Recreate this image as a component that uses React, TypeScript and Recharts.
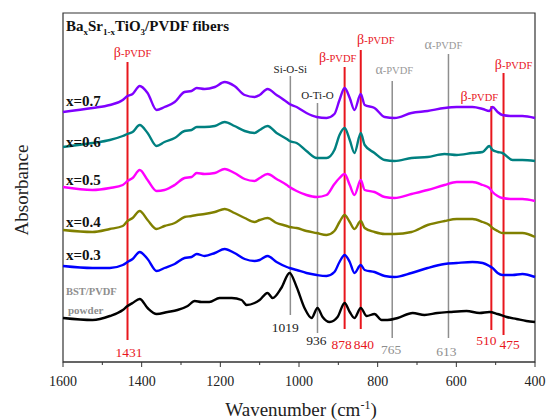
import React from 'react';
import { LineChart, Line, XAxis, YAxis, ReferenceLine, ReferenceArea } from 'recharts';

// ---------- data (absorbance, arbitrary units, curves offset as in the figure) ----------
const wavenumbers = [1600, 1525, 1481, 1448, 1436, 1423, 1405, 1385, 1362, 1342, 1316, 1291, 1273, 1260, 1240, 1214, 1189, 1164, 1138, 1113, 1100, 1080, 1057, 1031, 1024, 1006, 981, 955, 930, 910, 897, 884, 871, 859, 843, 833, 808, 782, 757, 714, 673, 630, 599, 559, 533, 516, 508, 495, 483, 457, 432, 400];
const absX07 = [2.50, 2.54, 2.57, 2.62, 2.66, 2.68, 2.76, 2.69, 2.52, 2.55, 2.60, 2.70, 2.71, 2.74, 2.73, 2.75, 2.80, 2.76, 2.67, 2.65, 2.67, 2.73, 2.67, 2.60, 2.58, 2.55, 2.49, 2.45, 2.44, 2.48, 2.62, 2.74, 2.64, 2.52, 2.68, 2.57, 2.54, 2.45, 2.44, 2.49, 2.51, 2.54, 2.55, 2.55, 2.53, 2.51, 2.55, 2.50, 2.47, 2.46, 2.46, 2.44];
const absX06 = [2.15, 2.19, 2.22, 2.26, 2.28, 2.30, 2.37, 2.29, 2.16, 2.20, 2.24, 2.31, 2.32, 2.35, 2.35, 2.36, 2.40, 2.36, 2.31, 2.29, 2.32, 2.36, 2.29, 2.23, 2.21, 2.19, 2.11, 2.04, 2.04, 2.12, 2.27, 2.34, 2.22, 2.09, 2.29, 2.17, 2.09, 2.02, 2.01, 2.04, 2.05, 2.08, 2.07, 2.09, 2.10, 2.16, 2.12, 2.10, 2.09, 2.02, 2.02, 2.01];
const absX05 = [1.75, 1.72, 1.74, 1.77, 1.81, 1.84, 1.92, 1.82, 1.71, 1.72, 1.77, 1.84, 1.85, 1.89, 1.88, 1.89, 1.93, 1.89, 1.83, 1.81, 1.84, 1.88, 1.83, 1.77, 1.75, 1.71, 1.67, 1.65, 1.67, 1.78, 1.84, 1.88, 1.77, 1.67, 1.82, 1.72, 1.70, 1.65, 1.64, 1.68, 1.72, 1.77, 1.80, 1.80, 1.77, 1.74, 1.70, 1.66, 1.64, 1.63, 1.63, 1.61];
const absX04 = [1.32, 1.30, 1.33, 1.36, 1.41, 1.44, 1.51, 1.42, 1.33, 1.36, 1.39, 1.45, 1.46, 1.47, 1.48, 1.50, 1.53, 1.49, 1.44, 1.40, 1.42, 1.44, 1.39, 1.36, 1.35, 1.34, 1.31, 1.29, 1.27, 1.31, 1.40, 1.47, 1.40, 1.33, 1.41, 1.34, 1.30, 1.28, 1.28, 1.30, 1.37, 1.41, 1.43, 1.43, 1.40, 1.37, 1.34, 1.31, 1.29, 1.29, 1.29, 1.25];
const absX03 = [0.96, 0.94, 0.94, 0.97, 1.00, 1.03, 1.10, 1.03, 0.91, 0.94, 0.98, 1.04, 1.05, 1.08, 1.06, 1.09, 1.13, 1.09, 1.03, 1.01, 1.02, 1.06, 1.00, 0.95, 0.94, 0.92, 0.89, 0.87, 0.86, 0.90, 1.00, 1.07, 1.00, 0.89, 0.97, 0.92, 0.90, 0.86, 0.85, 0.89, 0.94, 0.98, 0.99, 1.00, 0.99, 0.96, 0.94, 0.89, 0.87, 0.87, 0.88, 0.85];
const powderWavenumbers = [1600, 1525, 1481, 1448, 1436, 1423, 1405, 1385, 1362, 1334, 1309, 1283, 1265, 1248, 1228, 1202, 1171, 1146, 1133, 1113, 1100, 1080, 1067, 1045, 1024, 1006, 986, 968, 953, 940, 922, 902, 884, 871, 859, 843, 828, 808, 790, 775, 749, 711, 681, 648, 617, 574, 541, 516, 495, 472, 447, 422, 400];
const absPowder = [0.44, 0.42, 0.46, 0.52, 0.56, 0.59, 0.63, 0.54, 0.48, 0.50, 0.52, 0.56, 0.61, 0.60, 0.60, 0.64, 0.64, 0.62, 0.57, 0.59, 0.62, 0.69, 0.64, 0.74, 0.89, 0.75, 0.54, 0.44, 0.54, 0.45, 0.40, 0.45, 0.59, 0.50, 0.44, 0.54, 0.46, 0.48, 0.42, 0.42, 0.44, 0.49, 0.47, 0.49, 0.50, 0.51, 0.49, 0.50, 0.48, 0.45, 0.43, 0.41, 0.40];

const seriesLabels = ['x=0.7', 'x=0.6', 'x=0.5', 'x=0.4', 'x=0.3'];
const powderLabel = ['BST/PVDF', 'powder'];
const xTicks = [1600, 1500, 1400, 1300, 1200, 1100, 1000, 900, 800, 700, 600, 500, 400];

const bandWavenumbers = [1436, 1022, 953, 884, 843, 763, 620, 511, 480];
const bandNames = ['β-PVDF', 'Si-O-Si', 'O-Ti-O', 'β-PVDF', 'β-PVDF', 'α-PVDF', 'α-PVDF', 'β-PVDF', 'β-PVDF'];
const bandNumbers = ['1431', '1019', '936', '878', '840', '765', '613', '510', '475'];
const bandKinds = ['beta', 'other', 'other', 'beta', 'beta', 'alpha', 'alpha', 'beta', 'beta'];

// ---------- layout / styles ----------
const W = 547;
const H = 420;
const M = { top: 13, right: 12, bottom: 0, left: 63 };
const XAXIS_H = 58;
const Y_MAX = 3.49;
const plotL = M.left;
const plotR = W - M.right;
const toPx = (w: number) => plotL + ((1600 - w) / 1200) * (plotR - plotL);

const curveColors = ['#7f00ff', '#008080', '#ff00ff', '#808000', '#0000ff'];
const labelBaselines = [106, 147, 185, 227, 260];
const RED = '#e8161d';
const GRAY = '#8e8e8e';
const DARK = '#222';
const FONT = "'Liberation Serif', 'Times New Roman', serif";

// line extents (absorbance units) and label placements (px)
const bandLayout = [
  { top: 3.0, bottom: 0.22, ldx: 5, ly: 57, ndx: 1.5, ny: 357 },
  { top: 2.86, bottom: 0.47, ldx: 0, ly: 73, ndx: -5, ny: 332 },
  { top: 2.59, bottom: 0.29, ldx: 0, ly: 99, ndx: -1, ny: 345 },
  { top: 2.95, bottom: 0.33, ldx: -7, ly: 62, ndx: -3, ny: 349 },
  { top: 3.12, bottom: 0.33, ldx: 15, ly: 44, ndx: 3, ny: 349 },
  { top: 2.81, bottom: 0.24, ldx: 2, ly: 74, ndx: -1, ny: 354 },
  { top: 3.08, bottom: 0.24, ldx: -5, ly: 49, ndx: -2, ny: 356 },
  { top: 2.56, bottom: 0.32, ldx: -12, ly: 101, ndx: -5, ny: 345 },
  { top: 2.89, bottom: 0.27, ldx: 10, ly: 69, ndx: 6, ny: 349 },
];

const seriesData = [absX07, absX06, absX05, absX04, absX03].map((vals) =>
  wavenumbers.map((w, i) => ({ w, a: vals[i] }))
);
const powderData = powderWavenumbers.map((w, i) => ({ w, a: absPowder[i] }));

const XTick = (props: any) => {
  const { x, y, payload } = props;
  const major = payload.value % 200 === 0;
  return (
    <g>
      <line x1={x} x2={x} y1={y} y2={y + (major ? 5 : 3)} stroke="#333" strokeWidth={1} />
      {major && (
        <text x={x} y={y + 24} textAnchor="middle" fontSize={14} fontFamily={FONT} fill={DARK}>
          {payload.value}
        </text>
      )}
    </g>
  );
};

const bandColor = (k: string) => (k === 'beta' ? RED : GRAY);
const nameColor = (k: string) => (k === 'beta' ? RED : k === 'alpha' ? '#999' : DARK);
const numColor = (k: string) => (k === 'beta' ? RED : k === 'alpha' ? GRAY : DARK);

export default function App() {
  return (
    <div style={{ position: 'absolute', left: 0, top: 0, width: W, height: H, background: '#fff' }}>
      <LineChart width={W} height={H} margin={M}>
        <XAxis
          dataKey="w"
          type="number"
          domain={[400, 1600]}
          reversed
          ticks={xTicks}
          interval={0}
          height={XAXIS_H}
          tickSize={0}
          tickMargin={0}
          tickLine={false}
          axisLine={{ stroke: '#333', strokeWidth: 1.2 }}
          tick={(p: any) => <XTick {...p} />}
        />
        <YAxis
          type="number"
          domain={[0, Y_MAX]}
          width={0}
          ticks={[1.35]}
          tick={false}
          tickSize={5}
          axisLine={{ stroke: '#333', strokeWidth: 1.2 }}
          tickLine={{ stroke: '#333' }}
        />
        <YAxis
          yAxisId="r"
          orientation="right"
          type="number"
          domain={[0, Y_MAX]}
          width={0}
          mirror
          ticks={[1.92]}
          tick={false}
          tickSize={4}
          axisLine={{ stroke: '#333', strokeWidth: 1.2 }}
          tickLine={{ stroke: '#333' }}
        />
        <ReferenceArea x1={400} x2={1600} y1={0} y2={Y_MAX} fill="none" stroke="#333" strokeWidth={1.2} />
        {bandWavenumbers.map((w, i) => (
          <ReferenceLine
            key={'b' + i}
            segment={[
              { x: w, y: bandLayout[i].top },
              { x: w, y: bandLayout[i].bottom },
            ]}
            stroke={bandColor(bandKinds[i])}
            strokeWidth={bandKinds[i] === 'beta' ? 2 : 1.5}
            ifOverflow="visible"
          />
        ))}
        {seriesData.map((d, i) => (
          <Line
            key={'s' + i}
            data={d}
            dataKey="a"
            name={seriesLabels[i]}
            type="monotone"
            stroke={curveColors[i]}
            strokeWidth={2.4}
            dot={false}
            activeDot={false}
            isAnimationActive={false}
          />
        ))}
        <Line
          data={powderData}
          dataKey="a"
          name="BST/PVDF powder"
          type="monotone"
          stroke="#000"
          strokeWidth={2.4}
          dot={false}
          activeDot={false}
          isAnimationActive={false}
        />
      </LineChart>
      <svg
        width={W}
        height={H}
        style={{ position: 'absolute', left: 0, top: 0, pointerEvents: 'none' }}
        fontFamily={FONT}
      >
        <text x={66} y={31} fontSize={15} fontWeight="bold" fill="#111">
          Ba<tspan dy={4} fontSize={9}>x</tspan>
          <tspan dy={-4}>Sr</tspan>
          <tspan dy={4} fontSize={9}>1-x</tspan>
          <tspan dy={-4}>TiO</tspan>
          <tspan dy={4} fontSize={9}>3</tspan>
          <tspan dy={-4}>/PVDF fibers</tspan>
        </text>
        {seriesLabels.map((s, i) => (
          <text key={'l' + i} x={66} y={labelBaselines[i]} fontSize={15} fontWeight="bold" fill="#111">
            {s}
          </text>
        ))}
        <text x={66} y={295} fontSize={10.5} fontWeight="bold" fill={GRAY}>
          {powderLabel[0]}
        </text>
        <text x={68} y={314} fontSize={11} fontWeight="bold" fill={GRAY}>
          {powderLabel[1]}
        </text>
        {bandWavenumbers.map((w, i) => {
          const L = bandLayout[i];
          const x = toPx(w);
          const name = bandNames[i];
          const greek = name.startsWith('β') || name.startsWith('α');
          return (
            <g key={'t' + i}>
              <text x={x + L.ldx} y={L.ly} textAnchor="middle" fill={nameColor(bandKinds[i])} fontSize={greek ? 10.5 : 11}>
                {greek ? (
                  <>
                    <tspan fontSize={14}>{name.charAt(0)}</tspan>
                    <tspan>{name.slice(1)}</tspan>
                  </>
                ) : (
                  name
                )}
              </text>
              <text x={x + L.ndx} y={L.ny} textAnchor="middle" fill={numColor(bandKinds[i])} fontSize={13.5}>
                {bandNumbers[i]}
              </text>
            </g>
          );
        })}
        <text transform="rotate(-90)" x={-190} y={28} textAnchor="middle" fontSize={19} fill={DARK}>
          Absorbance
        </text>
        <text x={301} y={416} textAnchor="middle" fontSize={19} fill={DARK}>
          Wavenumber (cm<tspan dy={-7} fontSize={12}>-1</tspan>
          <tspan dy={7}>)</tspan>
        </text>
      </svg>
    </div>
  );
}
